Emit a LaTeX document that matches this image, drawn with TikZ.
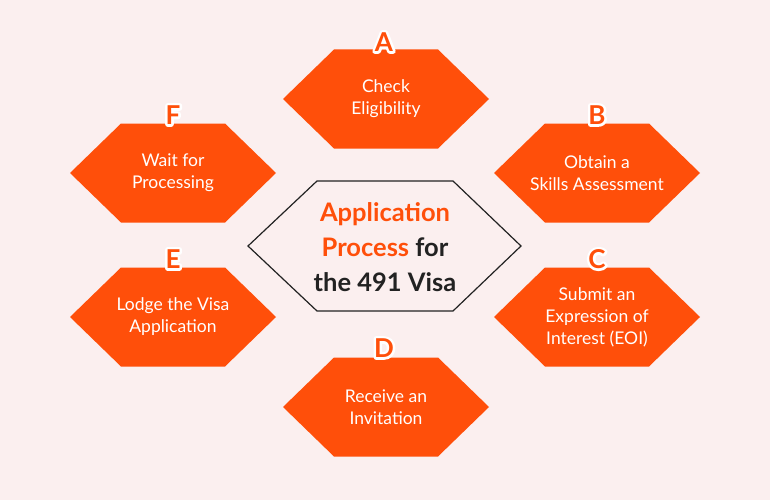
\documentclass[tikz,border=0pt]{standalone}
\usepackage{fontspec}
\setmainfont{Lato}
\definecolor{bg}{HTML}{FBEFEF}
\definecolor{org}{HTML}{FF4F0A}
\definecolor{ink}{HTML}{222222}
\tikzset{
  lbl/.style={text=white,align=center,font=\fontsize{17.5}{22}\selectfont},
  letter/.style={font=\fontsize{26}{26}\selectfont\bfseries}
}
\newcommand{\hexa}[4]{% name, cx, cy, text
  \fill[org] (#2-103,#3) -- (#2-52,#3-49.5) -- (#2+52,#3-49.5) -- (#2+103,#3) -- (#2+52,#3+49.5) -- (#2-52,#3+49.5) -- cycle;
  \node[lbl] (#1) at (#2,#3) {#4};}
\newcommand{\letr}[4]{% name, x, y, char
  \node[letter] at (#2,#3) {\special{pdf:code q 1 j 1 J 5 w 1 1 1 RG 1 Tr}#4\special{pdf:code 0 Tr Q}};
  \node[letter,text=org] (#1) at (#2,#3) {#4};}
\begin{document}
\begin{tikzpicture}[x=1pt,y=-1pt]
\fill[bg] (0,0) rectangle (770,500);
\useasboundingbox (0,0) rectangle (770,500);
\draw[ink,line width=1.2pt] (248,246) -- (317,181) -- (453,181) -- (521,246) -- (453,311) -- (317,311) -- cycle;
\node[align=center,font=\fontsize{25.5}{35}\selectfont\bfseries] (ctr) at (385,247)
  {\textcolor{org}{Application}\\\textcolor{org}{Process} \textcolor{ink}{for}\\\textcolor{ink}{the 491 Visa}};
\hexa{a}{386}{99}{Check\\Eligibility}
\hexa{b}{597}{173}{Obtain a\\Skills Assessment}
\hexa{c}{597}{317}{Submit an\\Expression of\\Interest (EOI)}
\hexa{d}{386}{407}{Receive an\\Invitation}
\hexa{e}{173}{317}{Lodge the Visa\\Application}
\hexa{f}{173}{173}{Wait for\\Processing}
\letr{la}{384}{42}{A}
\letr{lb}{597}{115}{B}
\letr{lc}{597}{259}{C}
\letr{ld}{384}{348}{D}
\letr{le}{173}{259}{E}
\letr{lf}{173}{115}{F}
\end{tikzpicture}
\end{document}
